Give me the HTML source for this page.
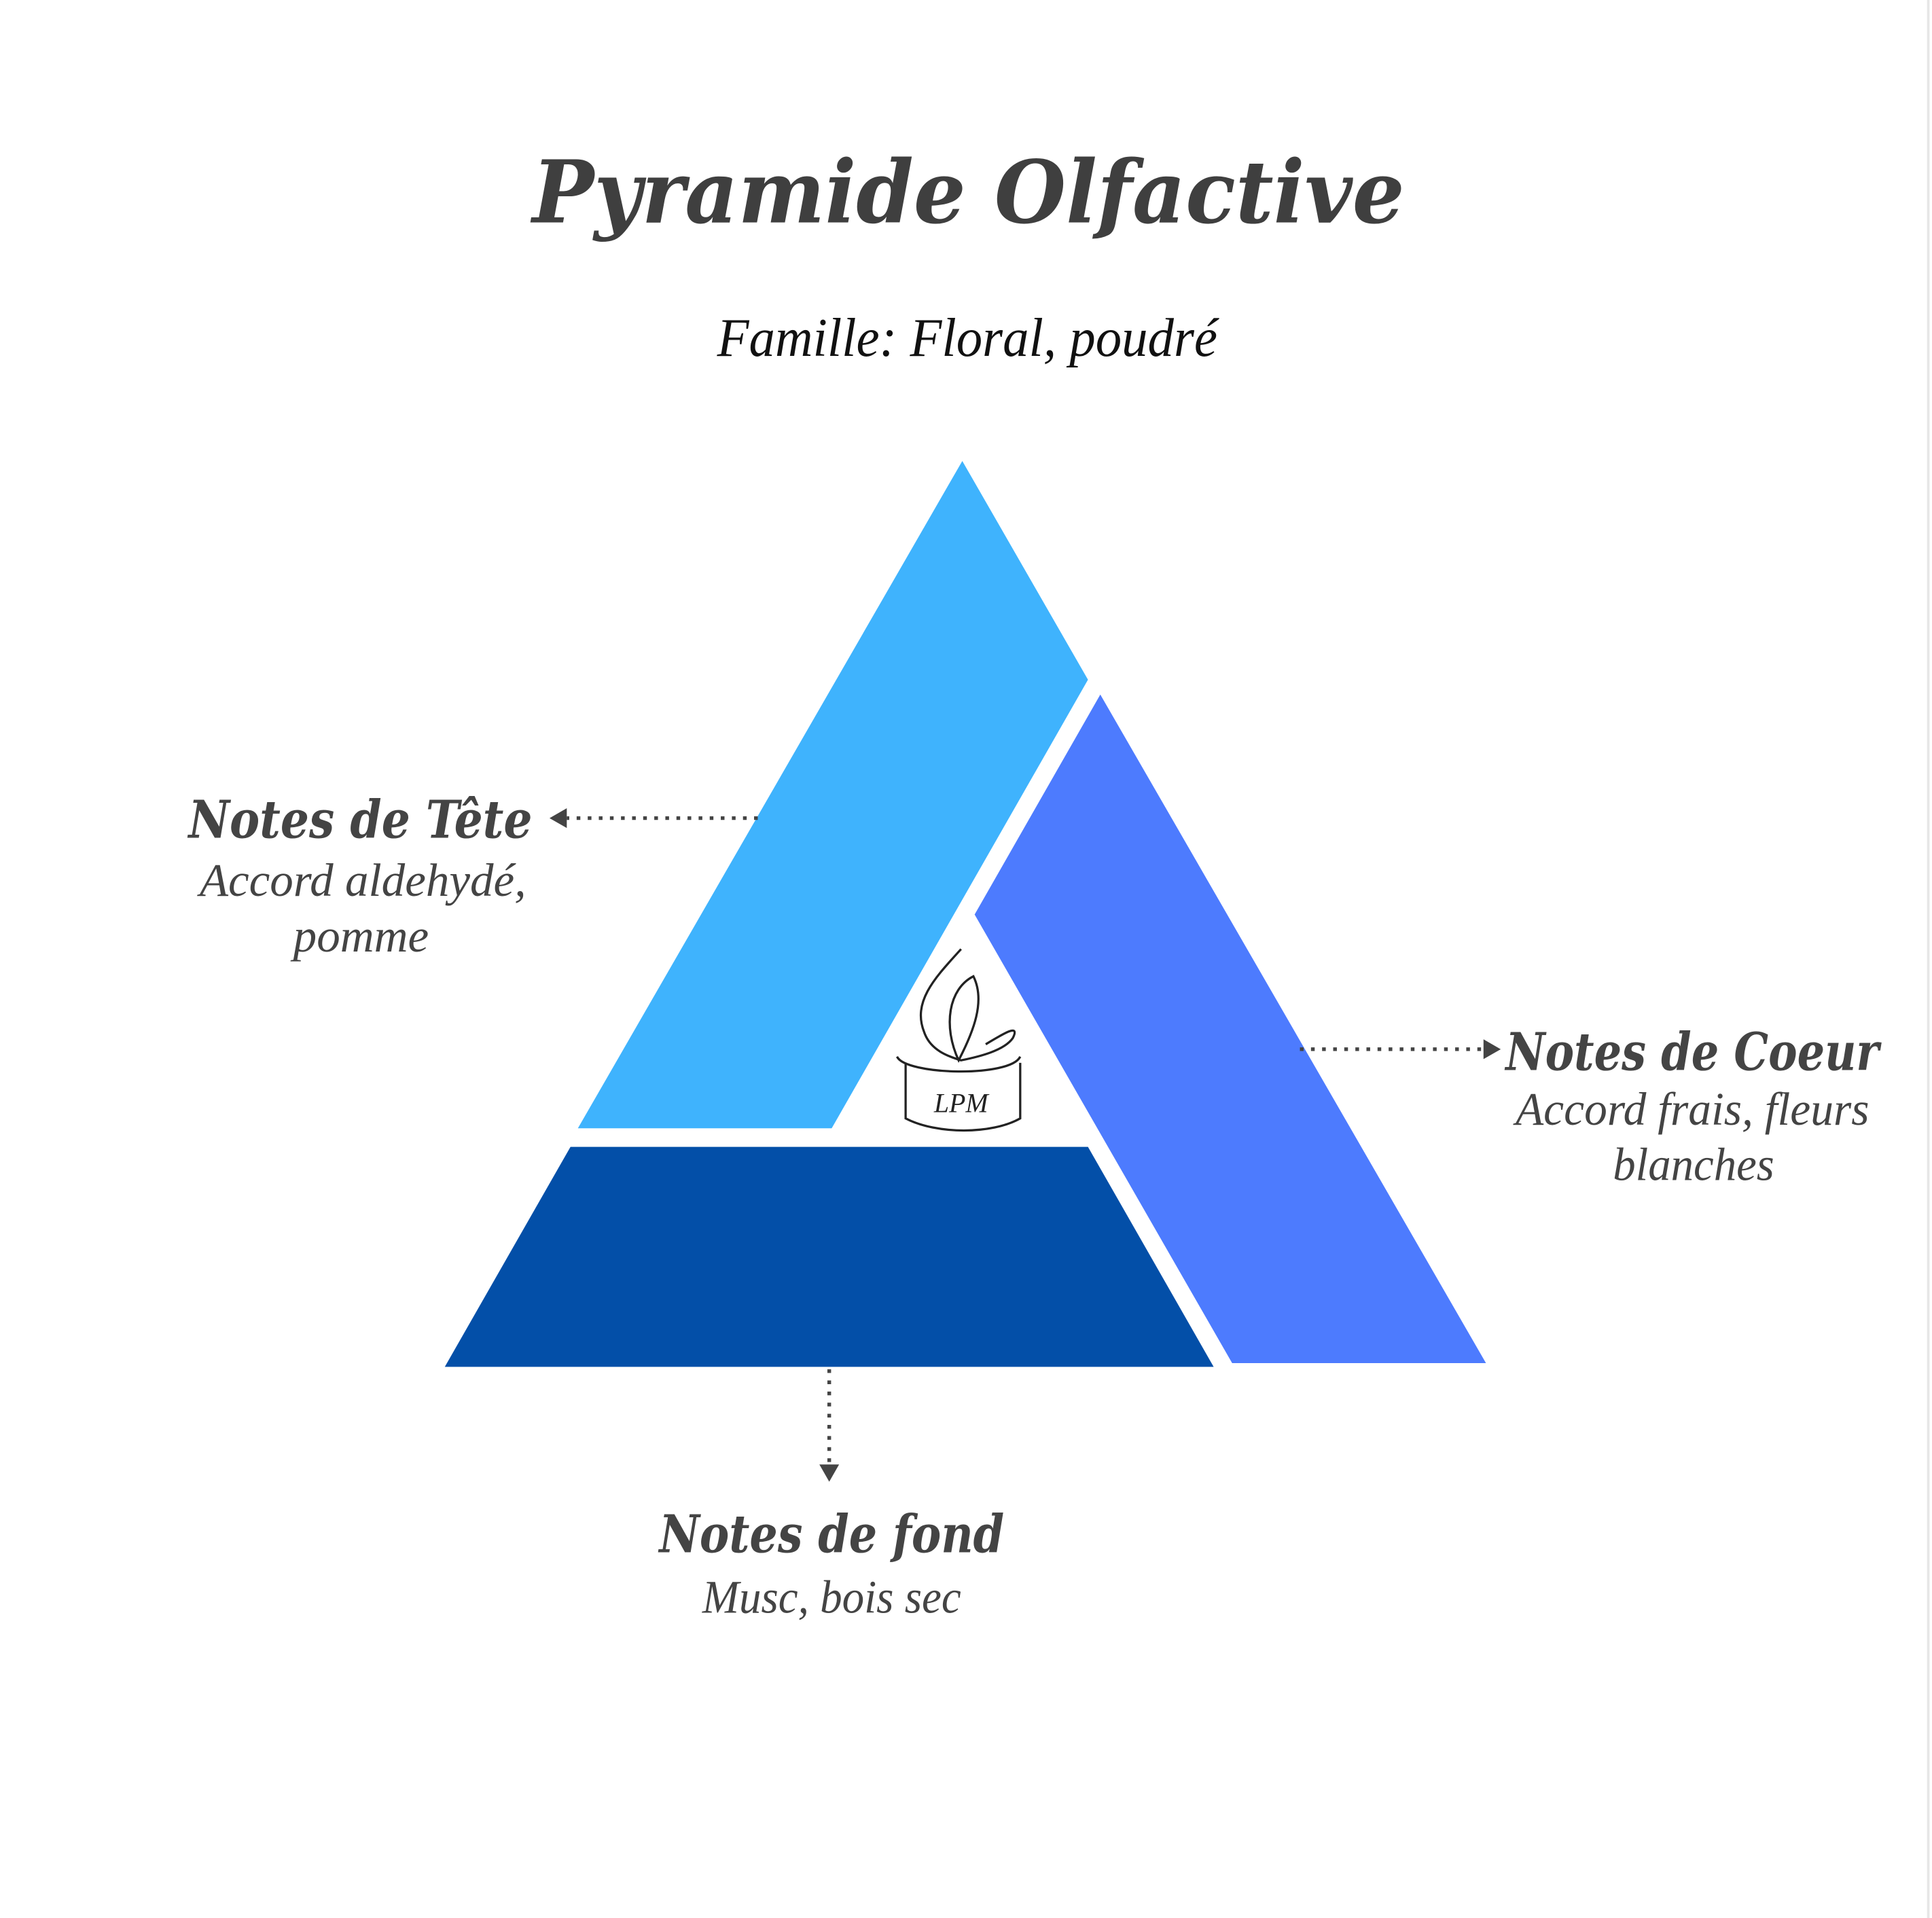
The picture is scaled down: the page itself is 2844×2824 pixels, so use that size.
<!DOCTYPE html>
<html><head><meta charset="utf-8"><style>
html,body{margin:0;padding:0;background:#fff;}
svg{display:block;}
text{font-family:"DejaVu Serif","Liberation Serif",serif;}
.s{font-family:"Liberation Serif",serif;}
</style></head><body>
<svg width="2844" height="2824" viewBox="0 0 1568 1552" preserveAspectRatio="none" xmlns="http://www.w3.org/2000/svg">
<rect width="1568" height="1552" fill="#fff"/>
<line x1="1565" y1="0" x2="1565" y2="1552" stroke="#e6e6e6" stroke-width="2"/>
<text x="432" y="180" font-size="70" font-weight="bold" font-style="italic" fill="#3f3f3f" textLength="708" lengthAdjust="spacingAndGlyphs">Pyramide Olfactive</text>
<text class="s" x="582" y="288" font-size="44" font-style="italic" fill="#111" textLength="406" lengthAdjust="spacingAndGlyphs">Famille: Floral, poudré</text>
<polygon points="781,373 883,550 675,913 469,913" fill="#3fb3fd"/>
<polygon points="893,562 1206,1103 1000,1103 791,740" fill="#4d7bfe"/>
<polygon points="463,928 883,928 985,1106 361,1106" fill="#034fa8"/>
<g fill="none" stroke="#222" stroke-width="1.8">
<path d="M780,768 C760,790 740,810 750,835 C755,850 770,855 780,858 C795,855 815,850 822,840 C828,828 815,836 800,845"/>
<path d="M790,790 C770,800 765,830 778,858 C790,835 800,810 790,790Z"/>
<path d="M735,860 L735,905 C760,918 805,918 828,905 L828,860"/>
<path d="M728,855 C735,870 820,872 828,855"/>
</g>
<text class="s" x="780" y="900" text-anchor="middle" font-size="22" fill="#222" font-style="italic">LPM</text>
<g stroke="#444" stroke-width="3" stroke-dasharray="3,6" fill="none">
<line x1="615" y1="662" x2="460" y2="662"/>
<line x1="1055" y1="849" x2="1205" y2="849"/>
<line x1="673" y1="1108" x2="673" y2="1185"/>
</g>
<g fill="#444">
<polygon points="446,662 460,654 460,670"/>
<polygon points="1218,849 1204,841 1204,857"/>
<polygon points="673,1199 665,1185 681,1185"/>
</g>
<g fill="#444">
<text x="153" y="678" font-size="42" font-weight="bold" font-style="italic" textLength="279" lengthAdjust="spacingAndGlyphs">Notes de Tête</text>
<text class="s" x="162" y="725" font-size="38" font-style="italic" textLength="265" lengthAdjust="spacingAndGlyphs">Accord aldehydé,</text>
<text class="s" x="238" y="770" font-size="38" font-style="italic" textLength="110" lengthAdjust="spacingAndGlyphs">pomme</text>
<text x="1222" y="866" font-size="42" font-weight="bold" font-style="italic" textLength="303" lengthAdjust="spacingAndGlyphs">Notes de Coeur</text>
<text class="s" x="1230" y="910" font-size="38" font-style="italic" textLength="287" lengthAdjust="spacingAndGlyphs">Accord frais, fleurs</text>
<text class="s" x="1309" y="955" font-size="38" font-style="italic" textLength="131" lengthAdjust="spacingAndGlyphs">blanches</text>
<text x="535" y="1256" font-size="42" font-weight="bold" font-style="italic" textLength="280" lengthAdjust="spacingAndGlyphs">Notes de fond</text>
<text class="s" x="570" y="1305" font-size="38" font-style="italic" textLength="210" lengthAdjust="spacingAndGlyphs">Musc, bois sec</text>
</g>
</svg>
</body></html>
